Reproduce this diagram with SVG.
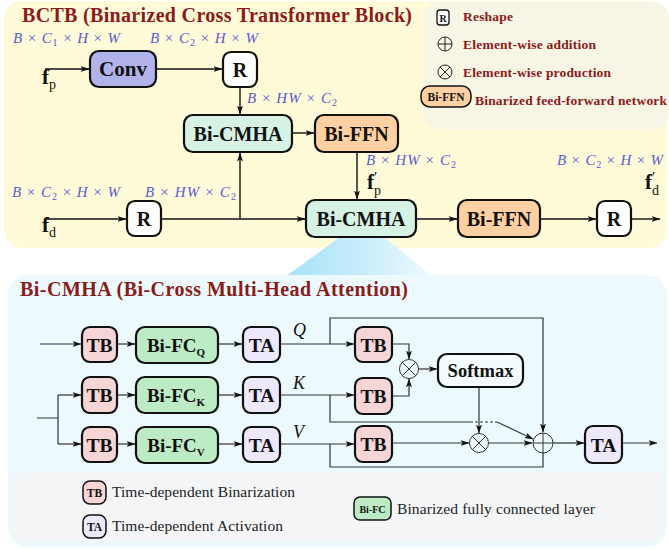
<svg xmlns="http://www.w3.org/2000/svg" width="669" height="550" viewBox="0 0 669 550">
<defs>
<marker id="ah" markerWidth="9" markerHeight="6" refX="8.5" refY="3" orient="auto" markerUnits="userSpaceOnUse">
<path d="M0,0 L9,3 L0,6 L2.2,3 z" fill="#111"/>
</marker>
<linearGradient id="cone" x1="0" y1="0" x2="1" y2="0">
<stop offset="0" stop-color="#A6E3F8"/>
<stop offset="0.55" stop-color="#C9EEFB"/>
<stop offset="1" stop-color="#EEF9FD"/>
</linearGradient>
<style>
.box{stroke:#111;stroke-width:2.2}
.lbl{font-family:"Liberation Serif",serif;font-weight:bold;fill:#111;text-anchor:middle}
.title{font-family:"Liberation Serif",serif;font-weight:bold;fill:#8B1A1A;font-size:20px}
.leg{font-family:"Liberation Serif",serif;font-weight:bold;fill:#8B1A1A;font-size:13.5px}
.leg2{font-family:"Liberation Serif",serif;fill:#222;font-size:15.5px}
.math{font-family:"Liberation Serif",serif;font-style:italic;fill:#5A5AD2;font-size:15px}
.up{font-style:normal}
.ln{fill:none;stroke:#111;stroke-width:1.4}
.ln2{fill:none;stroke:#333;stroke-width:1.2}
.arr{marker-end:url(#ah)}
.circ{fill:none;stroke:#333;stroke-width:1}
.cmha{fill:#D6F2E4}
.ffn{fill:#FFD0A1}
.tb{fill:#F5D5D6}
.fc{fill:#BDEBC6}
.ta{fill:#EEE8FB}
.w{fill:#FFFFFF}
.f{font-family:"Liberation Serif",serif;fill:#111}
</style>
</defs>

<!-- backgrounds -->
<rect x="4" y="1" width="663" height="247" rx="18" fill="#FFFBD8"/>
<rect x="423" y="2" width="246" height="127" rx="16" fill="#F7F5E5"/>
<polygon points="340,237 384,237 433,277 285,277" fill="url(#cone)"/>
<rect x="8" y="275" width="659" height="272" rx="20" fill="#ECFAFE"/>
<rect x="12" y="472" width="652" height="70" rx="12" fill="#F4F5F7"/>

<text class="title" x="22" y="22" textLength="390">BCTB (Binarized Cross Transformer Block)</text>
<text class="title" x="20" y="296" textLength="388">Bi-CMHA (Bi-Cross Multi-Head Attention)</text>

<!-- top legend -->
<g id="legend-top">
<rect x="437" y="10" width="12" height="15" rx="3" fill="#fff" stroke="#111" stroke-width="1.3"/>
<text class="lbl" x="443" y="21.5" font-size="10">R</text>
<text class="leg" x="463" y="21" textLength="50">Reshape</text>
<circle cx="445" cy="44" r="7" fill="none" stroke="#222" stroke-width="1"/>
<path d="M438,44 H452 M445,37 V51" stroke="#222" stroke-width="1"/>
<text class="leg" x="463" y="49" textLength="133">Element-wise addition</text>
<circle cx="445" cy="72" r="7" fill="none" stroke="#222" stroke-width="1"/>
<path d="M440,67 L450,77 M450,67 L440,77" stroke="#222" stroke-width="1"/>
<text class="leg" x="463" y="77" textLength="148">Element-wise production</text>
<rect x="421" y="86" width="50" height="21" rx="9" class="ffn" stroke="#111" stroke-width="1.5"/>
<text class="lbl" x="446" y="100.5" font-size="11.5">Bi-FFN</text>
<text class="leg" x="475" y="105" textLength="192">Binarized feed-forward network</text>
</g>

<!-- connectors -->
<g id="connectors">
<path class="ln arr" d="M45,69 H89"/>
<path class="ln arr" d="M156,69 H222"/>
<path class="ln arr" d="M240,87 V114"/>
<path class="ln arr" d="M292,133 H314"/>
<path class="ln arr" d="M357,152 V199"/>
<path class="ln arr" d="M45,219 H126"/>
<path class="ln arr" d="M161,219 H305"/>
<path class="ln arr" d="M240,219 V153"/>
<path class="ln arr" d="M416,219 H457"/>
<path class="ln arr" d="M540,219 H596"/>
<path class="ln arr" d="M631,219 H660"/>

<path class="ln2 arr" d="M40,344 H81"/>
<path class="ln2 arr" d="M117,344 H135"/>
<path class="ln2 arr" d="M218,344 H242"/>
<path class="ln2 arr" d="M280,344 H354"/>
<path class="ln2" d="M37,418 H58 M58,395 V444"/>
<path class="ln2 arr" d="M58,395 H81"/>
<path class="ln2 arr" d="M58,444 H81"/>
<path class="ln2 arr" d="M117,395 H135"/>
<path class="ln2 arr" d="M117,444 H135"/>
<path class="ln2 arr" d="M218,395 H242"/>
<path class="ln2 arr" d="M218,444 H242"/>
<path class="ln2 arr" d="M280,395 H354"/>
<path class="ln2 arr" d="M280,444 H354"/>
<path class="ln2 arr" d="M330,344 V318 H543 V432"/>
<path class="ln2 arr" d="M392,344 H409 V359"/>
<path class="ln2 arr" d="M392,396 H409 V379"/>
<path class="ln2 arr" d="M419,369 H437"/>
<path class="ln2 arr" d="M479,387 V433"/>
<path class="ln2" d="M330,395 V422 H470"/>
<path class="ln2" d="M470,422 H497" stroke-dasharray="3,2"/>
<path class="ln2 arr" d="M497,422 L533,439"/>
<path class="ln2 arr" d="M392,443 H469"/>
<path class="ln2 arr" d="M489,443 H532"/>
<path class="ln2" d="M330,444 V467 H543 V453"/>
<path class="ln2 arr" d="M553,443 H584"/>
<path class="ln2 arr" d="M622,443 H657"/>
</g>

<!-- math labels -->
<text class="math" x="13" y="43" textLength="107">B <tspan class="up">×</tspan> C<tspan font-size="10" dy="3" class="up">1</tspan><tspan dy="-3"> <tspan class="up">×</tspan> H <tspan class="up">×</tspan> W</tspan></text>
<text class="math" x="150" y="43" textLength="108">B <tspan class="up">×</tspan> C<tspan font-size="10" dy="3" class="up">2</tspan><tspan dy="-3"> <tspan class="up">×</tspan> H <tspan class="up">×</tspan> W</tspan></text>
<text class="math" x="247" y="103" textLength="90">B <tspan class="up">×</tspan> HW <tspan class="up">×</tspan> C<tspan font-size="10" dy="3" class="up">2</tspan></text>
<text class="math" x="366" y="165" textLength="90">B <tspan class="up">×</tspan> HW <tspan class="up">×</tspan> C<tspan font-size="10" dy="3" class="up">2</tspan></text>
<text class="math" x="12" y="197" textLength="108">B <tspan class="up">×</tspan> C<tspan font-size="10" dy="3" class="up">2</tspan><tspan dy="-3"> <tspan class="up">×</tspan> H <tspan class="up">×</tspan> W</tspan></text>
<text class="math" x="145" y="197" textLength="91">B <tspan class="up">×</tspan> HW <tspan class="up">×</tspan> C<tspan font-size="10" dy="3" class="up">2</tspan></text>
<text class="math" x="557" y="165" textLength="106">B <tspan class="up">×</tspan> C<tspan font-size="10" dy="3" class="up">2</tspan><tspan dy="-3"> <tspan class="up">×</tspan> H <tspan class="up">×</tspan> W</tspan></text>

<!-- feature labels -->
<text class="f" x="42" y="84" font-size="21" font-weight="bold">f<tspan font-weight="normal" font-size="14" dy="5">p</tspan></text>
<text class="f" x="367" y="189" font-size="21" font-weight="bold">f<tspan font-weight="normal" font-size="14" dy="6">p</tspan><tspan font-weight="normal" font-size="15" dx="-7" dy="-13">′</tspan></text>
<text class="f" x="42" y="232" font-size="21" font-weight="bold">f<tspan font-weight="normal" font-size="14" dy="5">d</tspan></text>
<text class="f" x="645" y="189" font-size="21" font-weight="bold">f<tspan font-weight="normal" font-size="14" dy="6">d</tspan><tspan font-weight="normal" font-size="15" dx="-7" dy="-13">′</tspan></text>

<!-- top nodes -->
<g id="conv"><rect class="box" x="90" y="51" width="66" height="36" rx="9" fill="#B3B3EC"/><text class="lbl" x="123" y="76" font-size="21">Conv</text></g>
<g id="r1"><rect class="box w" x="223" y="52" width="34" height="35" rx="8"/><text class="lbl" x="240" y="77" font-size="20">R</text></g>
<g id="cmha1"><rect class="box cmha" x="184" y="115" width="108" height="37" rx="9"/><text class="lbl" x="238" y="141" font-size="20">Bi-CMHA</text></g>
<g id="ffn1"><rect class="box ffn" x="315" y="115" width="83" height="37" rx="9"/><text class="lbl" x="356.5" y="141" font-size="20">Bi-FFN</text></g>
<g id="r2"><rect class="box w" x="127" y="201" width="34" height="35" rx="8"/><text class="lbl" x="144" y="226" font-size="20">R</text></g>
<g id="cmha2"><rect class="box cmha" x="306" y="200" width="110" height="37" rx="9"/><text class="lbl" x="361" y="226" font-size="20">Bi-CMHA</text></g>
<g id="ffn2"><rect class="box ffn" x="458" y="200" width="82" height="37" rx="9"/><text class="lbl" x="499" y="226" font-size="20">Bi-FFN</text></g>
<g id="r3"><rect class="box w" x="597" y="201" width="34" height="35" rx="8"/><text class="lbl" x="614" y="226" font-size="20">R</text></g>

<!-- lower nodes -->
<g id="tbq"><rect class="box tb" x="82" y="327" width="35" height="35" rx="8"/><text class="lbl" x="99.5" y="351.5" font-size="19.5">TB</text></g>
<g id="tbk"><rect class="box tb" x="82" y="377" width="35" height="36" rx="8"/><text class="lbl" x="99.5" y="402" font-size="19.5">TB</text></g>
<g id="tbv"><rect class="box tb" x="82" y="427" width="35" height="35" rx="8"/><text class="lbl" x="99.5" y="451.5" font-size="19.5">TB</text></g>
<g id="fcq"><rect class="box fc" x="136" y="327" width="82" height="36" rx="9"/><text class="lbl" x="176" y="351.5" font-size="19">Bi-FC<tspan font-size="11" dy="4">Q</tspan></text></g>
<g id="fck"><rect class="box fc" x="136" y="377" width="82" height="36" rx="9"/><text class="lbl" x="176" y="402" font-size="19">Bi-FC<tspan font-size="11" dy="4">K</tspan></text></g>
<g id="fcv"><rect class="box fc" x="136" y="427" width="82" height="36" rx="9"/><text class="lbl" x="176" y="451.5" font-size="19">Bi-FC<tspan font-size="11" dy="4">V</tspan></text></g>
<g id="taq"><rect class="box ta" x="243" y="327" width="37" height="35" rx="8"/><text class="lbl" x="261.5" y="351.5" font-size="19.5">TA</text></g>
<g id="tak"><rect class="box ta" x="243" y="377" width="37" height="36" rx="8"/><text class="lbl" x="261.5" y="402" font-size="19.5">TA</text></g>
<g id="tav"><rect class="box ta" x="243" y="427" width="37" height="35" rx="8"/><text class="lbl" x="261.5" y="451.5" font-size="19.5">TA</text></g>
<text class="f" x="293" y="336" font-size="18" font-style="italic">Q</text>
<text class="f" x="293" y="389" font-size="18" font-style="italic">K</text>
<text class="f" x="293" y="438" font-size="18" font-style="italic">V</text>
<g id="tb2q"><rect class="box tb" x="355" y="327" width="37" height="35" rx="8"/><text class="lbl" x="373.5" y="351.5" font-size="19.5">TB</text></g>
<g id="tb2k"><rect class="box tb" x="355" y="378" width="37" height="36" rx="8"/><text class="lbl" x="373.5" y="403" font-size="19.5">TB</text></g>
<g id="tb2v"><rect class="box tb" x="355" y="426" width="37" height="36" rx="8"/><text class="lbl" x="373.5" y="451" font-size="19.5">TB</text></g>
<g id="mul1"><circle class="circ" cx="409" cy="369" r="9.5" fill="#ECFAFE"/><path d="M402.3,362.3 L415.7,375.7 M415.7,362.3 L402.3,375.7" stroke="#333" stroke-width="1"/></g>
<g id="softmax"><rect class="box" x="438" y="354" width="85" height="33" rx="9" fill="#F5FCFE"/><text class="lbl" x="480.5" y="377" font-size="18.5">Softmax</text></g>
<g id="mul2"><circle class="circ" cx="479" cy="443" r="9.5" fill="#ECFAFE"/><path d="M472.3,436.3 L485.7,449.7 M485.7,436.3 L472.3,449.7" stroke="#333" stroke-width="1"/></g>
<g id="add"><circle class="circ" cx="543" cy="443" r="10" fill="#ECFAFE"/><path d="M533,443 H553 M543,433 V453" stroke="#333" stroke-width="1"/></g>
<g id="taout"><rect class="box ta" x="585" y="426" width="37" height="37" rx="8"/><text class="lbl" x="603.5" y="451.5" font-size="19.5">TA</text></g>

<!-- bottom legend -->
<g id="legend-bottom">
<rect x="83" y="481" width="23" height="23" rx="7" class="tb" stroke="#111" stroke-width="1.5"/>
<text class="lbl" x="94.5" y="497" font-size="11.5">TB</text>
<text class="leg2" x="112" y="497" textLength="183">Time-dependent Binarization</text>
<rect x="83" y="515" width="23" height="23" rx="7" class="ta" stroke="#111" stroke-width="1.5"/>
<text class="lbl" x="94.5" y="531" font-size="11.5">TA</text>
<text class="leg2" x="112" y="531" textLength="171">Time-dependent Activation</text>
<rect x="354" y="497" width="37" height="23" rx="6" class="fc" stroke="#111" stroke-width="1.5"/>
<text class="lbl" x="372.5" y="512.5" font-size="10">Bi-FC</text>
<text class="leg2" x="397" y="514" textLength="198">Binarized fully connected layer</text>
</g>
</svg>
